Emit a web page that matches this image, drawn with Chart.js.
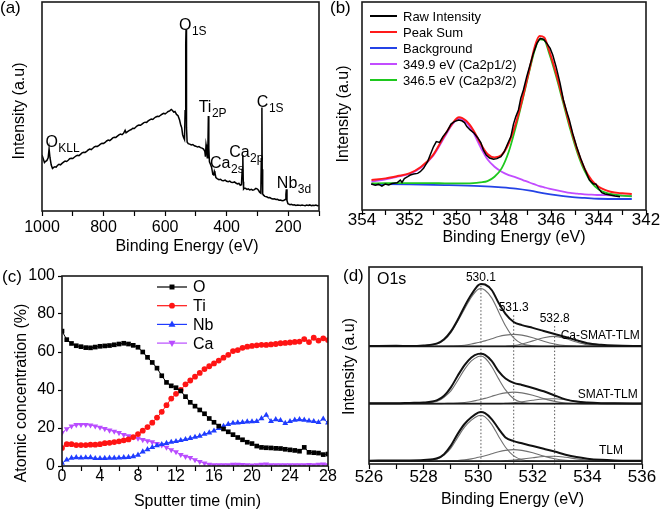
<!DOCTYPE html>
<html><head><meta charset="utf-8">
<script src="https://cdn.jsdelivr.net/npm/chart.js@4.4.1/dist/chart.umd.min.js"></script>
<style>
html,body{margin:0;padding:0;background:#fff;}
#wrap{position:relative;width:661px;height:514px;overflow:hidden;background:#fff;}
canvas{position:absolute;}
</style></head><body>
<div id="wrap">
<canvas id="ca" width="330" height="257" style="left:0px;top:0px"></canvas>
<canvas id="cb" width="331" height="257" style="left:330px;top:0px"></canvas>
<canvas id="cc" width="345" height="257" style="left:0px;top:257px"></canvas>
<canvas id="cd" width="331" height="257" style="left:330px;top:257px"></canvas>
</div>
<script>
// ---------- (a) survey spectrum ----------
const surveyEnergy = [1000,996,992,988,984,980,977,974,970,966,962,958,954,950,945,940,935,930,925,920,915,910,905,900,895,890,885,880,875,870,865,860,855,850,845,840,835,830,825,820,815,810,805,800,795,790,785,780,775,770,765,760,755,750,745,740,735,730,727,722,716,710,705,700,695,690,685,680,675,670,665,660,655,650,645,640,635,630,625,620,615,610,605,600,595,590,585,580,576,572,568,563,558,553,549,546,543,540,537,535,533,532,531,530,528.5,525,520,515,510,505,500,495,490,485,480,475,471,469,467,465,463,461,459.5,458,456,453,449,445,442,440,438,435,431,425,420,415,410,405,400,395,390,385,380,375,370,365,360,356,352,349.5,347.5,346,345,342,338,334,330,325,320,315,310,305,300,296,293,289,287.5,285.5,284.5,283,281,276,270,265,260,255,250,245,240,235,230,225,220,215,210,207.5,206,204,201,198,194,190,185,180,175,170,165,160,155,150,145,140,135,130,125,120,115,110,105,100];
const surveyIntensity = [26.8,25.0,23.2,23.8,24.2,25.5,29.8,25.5,22.0,20.4,20.9,21.2,21.0,21.8,22.3,22.1,22.8,23.4,23.9,23.7,24.3,25.0,25.2,25.1,25.7,26.3,26.7,26.5,27.1,27.8,28.1,28.0,28.5,29.2,29.6,29.4,30.0,30.7,31.0,30.9,31.4,32.0,32.4,32.3,32.8,33.5,33.9,33.7,34.3,35.0,35.3,35.2,35.8,36.4,36.8,36.5,37.2,38.6,37.4,38.0,38.6,39.0,39.6,39.5,40.2,40.8,41.1,41.0,41.6,42.2,42.5,42.4,43.1,43.6,44.0,43.8,44.5,45.0,45.3,45.2,45.8,46.3,46.7,46.5,47.0,47.6,47.9,48.6,48.1,47.3,47.6,46.2,45.6,43.5,41.0,39.8,36.5,35.2,34.2,48,80,87,70,40,33.0,32.2,32.0,31.6,31.8,31.2,31.0,30.6,30.8,30.3,30.1,29.6,28.5,26.0,31.8,30.0,25.5,30,45.5,30,23.5,22.5,21.0,17.5,17.2,19.0,18.2,16.0,15.5,15.0,15.2,14.6,14.5,14.8,14.2,14.0,14.3,13.7,13.6,13.9,13.4,13.0,13.2,12.3,12.6,20,26.8,14,10.5,11.0,10.8,10.3,10.6,10.1,10.4,10.0,10.2,10.8,10.5,9.8,9.0,8.5,25,49.5,20,8.2,7.7,7.0,6.8,6.4,6.5,6.0,5.8,5.9,5.5,5.6,5.2,5.3,4.9,5.0,5.5,8.0,10.4,5,3.5,3.3,3.0,3.2,2.9,3.0,2.7,2.9,2.8,2.6,2.9,2.7,2.5,2.8,2.6,2.9,2.5,2.7,2.6,2.8,2.5,2.6];
const surveyTicks = [1000,900,800,700,600,500,400,300,200,100];
const surveyTickLabels = [1000,800,600,400,200];
const surveyPeakNames = [
  {text:'O', sub:'KLL', x:989, y:30.6},
  {text:'O', sub:'1S', x:555, y:86.6},
  {text:'Ti', sub:'2P', x:491, y:47.4},
  {text:'Ca', sub:'2s', x:454, y:20.6},
  {text:'Ca', sub:'2p', x:392, y:25.8},
  {text:'C', sub:'1S', x:302, y:49.8},
  {text:'Nb', sub:'3d', x:237, y:11}
];

// ---------- (b) Ca 2p ----------
const fitEnergy = [353.6,353,352.5,352,351.5,351,350.5,350.2,349.9,349.6,349.3,349,348.7,348.4,348.1,347.8,347.5,347.2,346.9,346.7,346.5,346.3,346.1,345.8,345.5,345.2,344.9,344.6,344.3,344,343.5,343,342.6];
const peakSum = [14.4,15.2,16.3,17.6,20.8,26.4,36.1,41.3,44.6,42.9,38.5,32.1,26.9,25.3,26.4,32.1,41.7,54.5,68.9,78.5,83.7,83.0,76.9,65.7,52.9,40.1,28.8,20.0,14.4,11.2,8.8,8.0,7.7];
const ca2p12 = [13.6,14.7,16.0,17.3,20.4,26.0,35.3,40.9,43.8,42.0,37.2,30.4,24.4,20.8,18.4,16.8,15.7,14.4,13.1,12.3,11.5,10.9,10.3,9.5,8.8,8.2,7.9,7.5,7.4,7.2,7.1,6.9,6.7];
const ca2p32 = [12.8,12.9,12.9,12.9,12.9,12.9,12.8,12.8,12.8,12.8,12.9,13.3,13.9,16.0,20.0,28.0,40.0,53.7,68.1,76.9,82.0,81.7,75.6,64.4,51.6,38.8,27.6,18.9,13.1,9.9,7.7,6.9,6.6];
const bgEnergy = [353.6,352,350.5,349,348.1,347.5,346.9,346.3,345.8,345.2,344.6,344,343,342.6];
const background = [12.5,12.3,12.0,11.5,10.9,10.3,9.3,8.0,7.1,6.3,5.8,5.4,5.3,5.3];
const rawEnergy = [353.61,353.44,353.30,353.16,353.02,352.87,352.73,352.52,352.38,352.31,352.21,352.07,351.96,351.82,351.65,351.54,351.40,351.23,351.12,350.98,350.86,350.72,350.58,350.41,350.24,350.10,349.92,349.78,349.67,349.57,349.43,349.26,349.12,348.98,348.87,348.75,348.61,348.44,348.30,348.13,347.99,347.85,347.71,347.60,347.50,347.39,347.29,347.18,347.04,346.90,346.76,346.61,346.47,346.33,346.19,346.05,345.94,345.80,345.63,345.49,345.35,345.24,345.10,344.93,344.76,344.57,344.39,344.22,344.12,344.01,343.87,343.73,343.52,343.31,343.10];
const rawIntensity = [12.5,11.9,12.3,11.5,12.5,12.0,12.7,13.1,14.4,13.3,15.1,16.0,16.8,17.3,17.6,18.4,20.0,23.2,26.4,30.4,32.9,32.5,35.3,37.7,41.3,42.5,43.3,42.9,42.0,40.1,38.5,36.9,34.9,32.4,28.8,26.4,25.0,24.4,24.7,25.6,28.0,31.7,35.3,41.3,44.9,48.1,53.7,57.7,64.1,69.7,75.3,80.1,82.5,82.1,80.1,77.7,74.5,68.9,60.9,52.9,47.3,43.3,36.9,30.4,24.8,19.2,14.4,12.5,12.5,10.4,8.3,7.7,7.2,6.7,6.4];
const ca2pTicks = [354,353,352,351,350,349,348,347,346,345,344,343,342];
const ca2pTickLabels = [354,352,350,348,346,344,342];
const ca2pLegend = ['Raw Intensity','Peak Sum','Background','349.9 eV (Ca2p1/2)','346.5 eV (Ca2p3/2)'];

// ---------- (c) depth profile ----------
const sputterTime = [0,0.5,1,1.5,2,2.5,3,3.5,4,4.5,5,5.5,6,6.5,7,7.5,8,8.5,9,9.5,10,10.5,11,11.5,12,12.5,13,13.5,14,14.5,15,15.5,16,16.5,17,17.5,18,18.5,19,19.5,20,20.5,21,21.5,22,22.5,23,23.5,24,24.5,25,25.5,26,26.5,27,27.5,28];
const oConc = [71,66.5,64.5,63.3,62.8,62.3,62.2,62.6,63,63.2,63.4,63.8,64.2,64.6,64.2,63.5,62.5,60,57.2,54.5,51.5,47.5,44,42.2,41.2,39.5,36.5,33.5,31.5,29.5,27.5,25,23,21,19.5,18,16.5,15,13.8,12.5,11.8,10.5,9.8,9.6,9.5,9.3,9.2,8.8,8.5,8.2,7.8,9.8,7.2,7,6.8,6,6.3];
const tiConc = [9.5,11.5,11.5,11,11,11,11.2,11.2,11.5,12,12.2,12.6,13,13.5,14,15.2,16.8,18.6,20.5,22.8,25.5,28.5,32,35.5,38,40,43,45,47,49,51,52.5,54,55.5,57,58.5,60.5,61,62.2,62.8,63.2,63.5,63.8,63.7,64,64.2,64.6,64.8,65,65.3,65.5,66.8,65.2,67.5,66,67.2,66.3];
const nbConc = [1.5,3.2,4.2,4.5,4.3,4.4,4.5,4,4,4.1,4.2,4.2,4.3,4.5,4.6,5,5.8,7.5,8.7,9.8,10.7,11.4,12,12.6,13,13.5,14,14.6,15.2,15.8,16.8,17.5,18.5,19.8,21,22,22.6,22.8,23,23.3,23.4,23.5,25,26.8,23.5,24.5,24,22.5,23.5,24.2,24.5,24.2,23.8,23.5,23,24.8,22.8];
const caConc = [17.5,19.5,21,21.7,21.8,21.8,21.5,21,20.3,19.6,18.8,18.2,17.5,16.5,15.8,15.2,14.5,13.8,13.2,12.6,11.8,11,9.8,8.5,7.4,6,5,4.4,3.2,2.3,1.5,0.8,0.6,0.5,0.5,0.6,0.8,0.8,0.7,0.5,0.4,0.5,0.8,1,0.6,0.5,0.6,0.5,0.5,0.6,0.5,0.6,0.7,0.5,0.8,1,0.6];
const depthNames = ['O','Ti','Nb','Ca'];
const timeTicks = [0,2,4,6,8,10,12,14,16,18,20,22,24,26,28];
const timeTickLabels = [0,4,8,12,16,20,24,28];
const concTicks = [0,20,40,60,80,100];

// ---------- (d) O1s ----------
const o1sEnergy = [526,527,527.5,528,528.5,528.75,529,529.25,529.5,529.75,530,530.1,530.25,530.5,530.75,531,531.3,531.6,532,532.4,532.8,533.2,533.6,534,534.5,535,536];
const caSmatEnv   = [0.2,0.3,0.2,0.5,1.5,3.6,7.6,13.5,20.3,26.3,31,31.7,31.4,28.5,22,16.5,12.4,10.8,9.4,7.8,6.3,4.8,3.1,1.6,0.8,0.4,0.2];
const caSmatMain  = [0,0,0.05,0.2,1.3,3.2,7,12.8,19,25,29,29.3,28.5,24.5,17.5,10.5,4.3,1.4,0.3,0.05,0,0,0,0,0,0,0];
const caSmatSec   = [0,0,0,0,0,0.1,0.2,0.3,0.6,1.2,2,2.3,2.8,3.9,5,5.7,6.1,5.7,4.4,2.6,1.2,0.4,0.1,0,0,0,0];
const caSmatThird = [0,0,0,0,0,0,0,0,0,0,0,0,0,0,0,0.1,0.4,1.2,2.8,4.4,5.1,4,2.2,0.8,0.2,0,0];
const smatEnv   = [0.3,0.2,0.4,0.6,1.8,4,8.3,14.2,19.6,23.5,25.3,25.4,24.8,21.6,16.4,12.8,10.6,9.5,8,6.3,4.2,2.2,1.1,0.6,0.3,0.2,0.1];
const smatMain  = [0,0,0.1,0.3,1.2,3.3,6.5,11.8,17.4,21.7,24,24.2,23.2,18.8,12.6,7,2.5,0.6,0.1,0,0,0,0,0,0,0,0];
const smatSec   = [0,0,0,0,0,0.1,0.2,0.3,0.6,1.1,1.9,2.2,2.7,3.8,4.8,5.5,5.9,5.5,4.3,2.6,1.2,0.4,0.1,0,0,0,0];
const smatThird = [0,0,0,0,0,0,0,0,0,0,0,0,0,0,0,0.2,0.5,1,1.8,2.4,2.5,2,1.2,0.5,0.1,0,0];
const tlmEnv   = [0.2,0.3,0.3,0.5,1.4,3.5,7.8,13.8,18.8,22.2,24.6,24.9,24.3,21.2,16.3,12,10.1,9,7.6,6.2,4.8,3.2,2,1.2,0.6,0.3,0.1];
const tlmMain  = [0,0,0.1,0.3,1.1,3,6.6,12,17.2,20.8,23,23.2,22.4,18.5,12.5,7,2.6,0.7,0.1,0,0,0,0,0,0,0,0];
const tlmSec   = [0,0,0,0,0,0.1,0.2,0.3,0.6,1.1,1.9,2.2,2.7,3.7,4.7,5.4,5.8,5.4,4.2,2.5,1.2,0.4,0.1,0,0,0,0];
const tlmThird = [0,0,0,0,0,0,0,0,0,0,0,0,0,0,0,0.2,0.5,1,1.7,2.3,2.4,1.9,1.1,0.5,0.1,0,0];
const sampleNames = ['Ca-SMAT-TLM','SMAT-TLM','TLM'];
const o1sPeaks = [530.1, 531.3, 532.8];
const o1sPeakLabels = ['530.1','531.3','532.8'];
const o1sTicks = [526,527,528,529,530,531,532,533,534,535,536];
const o1sTickLabels = [526,528,530,532,534,536];

// ---------- helpers ----------
const FAM = '"Liberation Sans", Arial, Helvetica, sans-serif';
const F = s => s + 'px ' + FAM;
Chart.defaults.font.family = FAM;
Chart.defaults.color = '#000';

function pts(xs, ys, off) { return xs.map((x, i) => ({x: x, y: ys[i] + (off || 0)})); }

function marker(ctx, type, x, y, r, color) {
  ctx.fillStyle = color; ctx.beginPath();
  if (type === 'rect') ctx.rect(x - r * 0.75, y - r * 0.75, r * 1.5, r * 1.5);
  else if (type === 'circle') ctx.arc(x, y, r, 0, Math.PI * 2);
  else if (type === 'tri') { ctx.moveTo(x, y - r * 1.1); ctx.lineTo(x + r, y + r * 0.7); ctx.lineTo(x - r, y + r * 0.7); ctx.closePath(); }
  else if (type === 'triDown') { ctx.moveTo(x, y + r * 1.1); ctx.lineTo(x + r, y - r * 0.7); ctx.lineTo(x - r, y - r * 0.7); ctx.closePath(); }
  ctx.fill();
}

const decor = {
  id: 'decor',
  afterDatasetsDraw(chart, args, o) {
    const ctx = chart.ctx, a = chart.chartArea;
    ctx.save();
    ctx.strokeStyle = '#1a1a1a'; ctx.lineWidth = 1.6;
    ctx.strokeRect(a.left, a.top, a.right - a.left, a.bottom - a.top);
    ctx.fillStyle = '#000';
    (o.texts || []).forEach(t => {
      ctx.save();
      ctx.font = t.font; ctx.fillStyle = t.color || '#000';
      ctx.textAlign = t.align || 'left';
      ctx.textBaseline = t.baseline || 'alphabetic';
      ctx.translate(t.x, t.y);
      if (t.rot) ctx.rotate(t.rot);
      ctx.fillText(t.text, 0, 0);
      ctx.restore();
    });
    const sx = chart.scales.x, sy = chart.scales.y;
    (o.labels || []).forEach(l => {
      let x = sx.getPixelForValue(l.x), y = sy.getPixelForValue(l.y);
      ctx.font = l.font; ctx.textBaseline = 'alphabetic';
      ctx.textAlign = l.align || 'left';
      ctx.fillStyle = l.color || '#000';
      ctx.fillText(l.text, x, y);
      if (l.sub) {
        const w = ctx.measureText(l.text).width;
        ctx.font = l.subFont; ctx.textAlign = 'left';
        ctx.fillText(l.sub, x + w + 0.5, y + (l.subDy || 5));
      }
    });
    if (o.legend) {
      const L = o.legend;
      L.items.forEach((it, i) => {
        const y = L.y0 + i * L.dy;
        ctx.strokeStyle = it.color; ctx.lineWidth = L.lw;
        ctx.beginPath(); ctx.moveTo(L.x1, y); ctx.lineTo(L.x2, y); ctx.stroke();
        if (it.marker) marker(ctx, it.marker, (L.x1 + L.x2) / 2, y, it.r, it.color);
        ctx.fillStyle = '#000'; ctx.font = L.font; ctx.textAlign = 'left'; ctx.textBaseline = 'middle';
        ctx.fillText(it.text, L.tx, y + 1);
      });
    }
    ctx.restore();
  }
};

function xAxis(min, max, rev, ticksArr, labelsArr, size, pad, height) {
  return {
    type: 'linear', min: min, max: max, reverse: rev,
    afterBuildTicks: s => { s.ticks = ticksArr.map(v => ({value: v})); },
    ticks: { autoSkip: false, maxRotation: 0, font: {size: size}, color: '#000', padding: pad,
             callback: v => (labelsArr.indexOf(v) >= 0 ? String(v) : '') },
    grid: { drawOnChartArea: false, drawTicks: true, tickLength: 5, tickColor: '#000', tickWidth: 1.2 },
    border: { display: false },
    afterFit: s => { s.height = height; }
  };
}
function yHidden(width) {
  return { type: 'linear', min: 0, max: 100, ticks: {display: false}, grid: {display: false},
           border: {display: false}, afterFit: s => { s.width = width; } };
}
const common = { responsive: false, animation: false, events: [] };
const noLeg = { legend: {display: false}, tooltip: {enabled: false} };

// ---------- chart (a) ----------
new Chart(document.getElementById('ca'), {
  type: 'line',
  data: { datasets: [{ data: pts(surveyEnergy, surveyIntensity), borderColor: '#000', borderWidth: 1.5,
                       pointRadius: 0, tension: 0 }] },
  options: Object.assign({}, common, {
    layout: { padding: {top: 2, right: 11, left: 0, bottom: 0} },
    plugins: Object.assign({}, noLeg, { decor: {
      texts: [
        {text: '(a)', x: 0, y: 13, font: F(17)},
        {text: 'Binding Energy (eV)', x: 187, y: 247, align: 'center', baseline: 'middle', font: F(16)},
        {text: 'Intensity (a.u)', x: 20, y: 111, rot: -Math.PI / 2, align: 'center', baseline: 'middle', font: F(16)}
      ],
      labels: surveyPeakNames.map(p => ({text: p.text, sub: p.sub, x: p.x, y: p.y, font: F(16), subFont: F(12), subDy: 5}))
    }}),
    scales: {
      x: xAxis(100, 1000, true, surveyTicks, surveyTickLabels, 16, 2, 46),
      y: yHidden(42)
    }
  }),
  plugins: [decor]
});

// ---------- chart (b) ----------
const bColors = {raw: '#000000', sum: '#ff1a1a', bg: '#2443e6', p12: '#c24cff', p32: '#1ec81e'};
new Chart(document.getElementById('cb'), {
  type: 'line',
  data: { datasets: [
    { data: pts(rawEnergy, rawIntensity), borderColor: bColors.raw, borderWidth: 1.5, pointRadius: 0, tension: 0 },
    { data: pts(fitEnergy, peakSum), borderColor: bColors.sum, borderWidth: 2, pointRadius: 0, cubicInterpolationMode: 'monotone' },
    { data: pts(fitEnergy, ca2p32), borderColor: bColors.p32, borderWidth: 1.8, pointRadius: 0, cubicInterpolationMode: 'monotone' },
    { data: pts(fitEnergy, ca2p12), borderColor: bColors.p12, borderWidth: 1.8, pointRadius: 0, cubicInterpolationMode: 'monotone' },
    { data: pts(bgEnergy, background), borderColor: bColors.bg, borderWidth: 1.8, pointRadius: 0, cubicInterpolationMode: 'monotone' }
  ]},
  options: Object.assign({}, common, {
    layout: { padding: {top: 2, right: 15, left: 0, bottom: 0} },
    plugins: Object.assign({}, noLeg, { decor: {
      texts: [
        {text: '(b)', x: 0, y: 13, font: F(17)},
        {text: 'Binding Energy (eV)', x: 184, y: 238, align: 'center', baseline: 'middle', font: F(16)},
        {text: 'Intensity (a.u)', x: 13.5, y: 114, rot: -Math.PI / 2, align: 'center', baseline: 'middle', font: F(16)}
      ],
      legend: { x1: 40, x2: 67, tx: 73, y0: 16, dy: 16, lw: 2, font: F(13),
        items: [
          {text: ca2pLegend[0], color: bColors.raw},
          {text: ca2pLegend[1], color: bColors.sum},
          {text: ca2pLegend[2], color: bColors.bg},
          {text: ca2pLegend[3], color: bColors.p12},
          {text: ca2pLegend[4], color: bColors.p32}
        ] }
    }}),
    scales: {
      x: xAxis(342, 354, true, ca2pTicks, ca2pTickLabels, 17, -5, 47),
      y: yHidden(32)
    }
  }),
  plugins: [decor]
});

// ---------- chart (c) ----------
const cColors = {O: '#000000', Ti: '#ff1414', Nb: '#1f3cff', Ca: '#b94cff'};
function depthSet(vals, color, style, r, rot) {
  return { data: pts(sputterTime, vals), borderColor: color, backgroundColor: color, borderWidth: 1,
           pointStyle: style, pointRadius: r, pointRotation: rot || 0, pointBorderWidth: 0, tension: 0 };
}
new Chart(document.getElementById('cc'), {
  type: 'line',
  data: { datasets: [
    depthSet(oConc, cColors.O, 'rect', 3.3),
    depthSet(tiConc, cColors.Ti, 'circle', 2.9),
    depthSet(nbConc, cColors.Nb, 'triangle', 3.4),
    depthSet(caConc, cColors.Ca, 'triangle', 3.4, 180)
  ]},
  options: Object.assign({}, common, {
    layout: { padding: {top: 19, right: 17, left: 0, bottom: 0} },
    plugins: Object.assign({}, noLeg, { decor: {
      texts: [
        {text: '(c)', x: 2, y: 25, font: F(17)},
        {text: 'Sputter time (min)', x: 197.5, y: 245, align: 'center', baseline: 'middle', font: F(16)},
        {text: 'Atomic concentration (%)', x: 21.5, y: 136, rot: -Math.PI / 2, align: 'center', baseline: 'middle', font: F(16)}
      ],
      legend: { x1: 157, x2: 187, tx: 193, y0: 30, dy: 18.7, lw: 1.2, font: F(16),
        items: [
          {text: depthNames[0], color: cColors.O, marker: 'rect', r: 3.3},
          {text: depthNames[1], color: cColors.Ti, marker: 'circle', r: 2.9},
          {text: depthNames[2], color: cColors.Nb, marker: 'tri', r: 3.5},
          {text: depthNames[3], color: cColors.Ca, marker: 'triDown', r: 3.5}
        ] }
    }}),
    scales: {
      x: xAxis(0, 28, false, timeTicks, timeTickLabels, 16, -4, 48),
      y: {
        type: 'linear', min: 0, max: 100,
        afterBuildTicks: s => { s.ticks = concTicks.map(v => ({value: v})); },
        ticks: { font: {size: 16}, color: '#000', padding: 3 },
        grid: { drawOnChartArea: false, drawTicks: true, tickLength: 4, tickColor: '#000', tickWidth: 1.2 },
        border: { display: false },
        afterFit: s => { s.width = 62; }
      }
    }
  }),
  plugins: [decor]
});

// ---------- chart (d) ----------
const stackOffsets = [59.7, 30.6, 1.5];
const dottedTops = [90.5, 75.5, 70];
const envSets = [caSmatEnv, smatEnv, tlmEnv];
const compSets = [[caSmatMain, caSmatSec, caSmatThird], [smatMain, smatSec, smatThird], [tlmMain, tlmSec, tlmThird]];
const dDatasets = [];
envSets.forEach((env, k) => {
  dDatasets.push({ data: pts(o1sEnergy, env, stackOffsets[k]), borderColor: '#111', borderWidth: 2,
                   pointRadius: 0, cubicInterpolationMode: 'monotone' });
});
stackOffsets.forEach(off => {
  dDatasets.push({ data: [{x: 526, y: off}, {x: 536, y: off}], borderColor: '#1a1a1a', borderWidth: 1.7, pointRadius: 0 });
});
compSets.forEach((comps, k) => {
  comps.forEach(c => {
    dDatasets.push({ data: pts(o1sEnergy, c, stackOffsets[k]), borderColor: '#707070', borderWidth: 1.1,
                     pointRadius: 0, cubicInterpolationMode: 'monotone' });
  });
});
o1sPeaks.forEach((p, i) => {
  dDatasets.push({ data: [{x: p, y: dottedTops[i]}, {x: p, y: 0}], borderColor: '#555', borderWidth: 1,
                   borderDash: [1.5, 2], pointRadius: 0 });
});
new Chart(document.getElementById('cd'), {
  type: 'line',
  data: { datasets: dDatasets },
  options: Object.assign({}, common, {
    layout: { padding: {top: 10, right: 19, left: 0, bottom: 0} },
    plugins: Object.assign({}, noLeg, { decor: {
      texts: [
        {text: '(d)', x: 13, y: 24, font: F(17)},
        {text: 'O1s', x: 47, y: 27, font: F(16)},
        {text: 'Binding Energy (eV)', x: 182.5, y: 243, align: 'center', baseline: 'middle', font: F(16)},
        {text: 'Intensity (a.u)', x: 20, y: 109.5, rot: -Math.PI / 2, align: 'center', baseline: 'middle', font: F(16)}
      ],
      labels: [
        {text: o1sPeakLabels[0], x: o1sPeaks[0], y: 92.9, align: 'center', font: F(12)},
        {text: o1sPeakLabels[1], x: o1sPeaks[1], y: 77.7, align: 'center', font: F(12)},
        {text: o1sPeakLabels[2], x: o1sPeaks[2], y: 72.1, align: 'center', font: F(12)},
        {text: sampleNames[0], x: 535.92, y: 63.6, align: 'right', font: F(12)},
        {text: sampleNames[1], x: 535.84, y: 33.7, align: 'right', font: F(12)},
        {text: sampleNames[2], x: 535.3, y: 4.9, align: 'right', font: F(12)}
      ]
    }}),
    scales: {
      x: xAxis(526, 536, false, o1sTicks, o1sTickLabels, 17, -2, 50),
      y: yHidden(39)
    }
  }),
  plugins: [decor]
});
</script>
</body></html>
